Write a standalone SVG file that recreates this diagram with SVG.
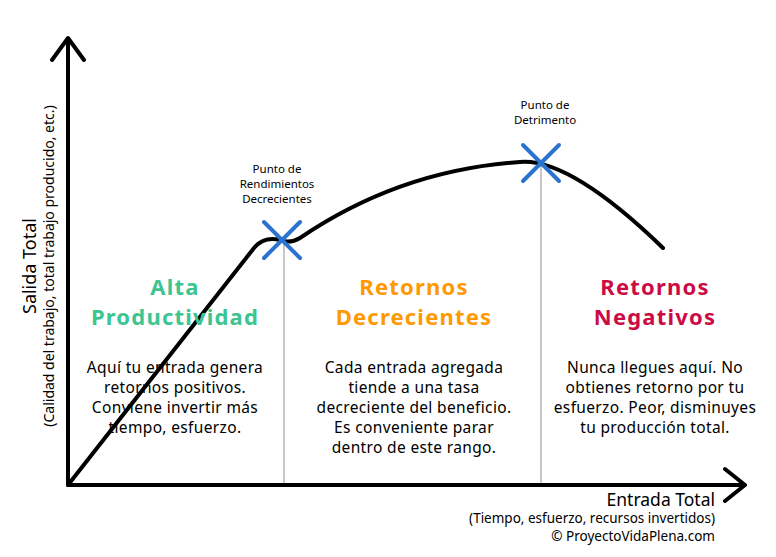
<svg xmlns="http://www.w3.org/2000/svg" width="776" height="557" viewBox="0 0 776 557">
<style>
text{font-family:"Noto Sans","Open Sans",sans-serif;text-anchor:middle;fill:#000}
.h{font-size:22px;font-weight:bold;letter-spacing:1.2px}
.b{font-size:15.5px;letter-spacing:0.35px}
.s{font-size:11.5px}
.ax{stroke:#000;stroke-width:4;fill:none;stroke-linecap:round;stroke-linejoin:round}
.g{stroke:#c8c8c8;stroke-width:2}
.x{stroke:#2a74d0;stroke-width:4;stroke-linecap:round}
</style>
<rect width="776" height="557" fill="#fff"/>
<g id="connectors">
<line class="g" x1="284" y1="242" x2="284" y2="484"/>
<line class="g" x1="541" y1="164" x2="541" y2="484"/>
<path class="ax" d="M68,485 V40 M52,60 L68,38 L84,60"/>
<path class="ax" d="M68,485 H745 M725,469 L745,485 L725,501"/>
<path class="ax" d="M68,485 L254,248 Q264,236 280,240 Q290,244 300,238 Q400,170 520,162 Q570,158 663,248"/>
</g>
<g id="p1"><line class="x" x1="264" y1="222" x2="300" y2="258"/><line class="x" x1="300" y1="222" x2="264" y2="258"/>
<text class="s" x="277" y="173">Punto de</text><text class="s" x="277" y="188">Rendimientos</text><text class="s" x="277" y="203">Decrecientes</text></g>
<g id="p2"><line class="x" x1="523" y1="145" x2="559" y2="181"/><line class="x" x1="559" y1="145" x2="523" y2="181"/>
<text class="s" x="545" y="109">Punto de</text><text class="s" x="545" y="124">Detrimento</text></g>
<g id="alta"><text class="h" x="175" y="295" style="fill:#3cc591">Alta</text><text class="h" x="175" y="325" style="fill:#3cc591">Productividad</text>
<text class="b" x="175" y="373">Aquí tu entrada genera</text><text class="b" x="175" y="393">retornos positivos.</text><text class="b" x="175" y="413">Conviene invertir más</text><text class="b" x="175" y="433">tiempo, esfuerzo.</text></g>
<g id="dec"><text class="h" x="414" y="295" style="fill:#ff9900">Retornos</text><text class="h" x="414" y="325" style="fill:#ff9900">Decrecientes</text>
<text class="b" x="414" y="373">Cada entrada agregada</text><text class="b" x="414" y="393">tiende a una tasa</text><text class="b" x="414" y="413">decreciente del beneficio.</text><text class="b" x="414" y="433">Es conveniente parar</text><text class="b" x="414" y="453">dentro de este rango.</text></g>
<g id="neg"><text class="h" x="655" y="295" style="fill:#cc0b44">Retornos</text><text class="h" x="655" y="325" style="fill:#cc0b44">Negativos</text>
<text class="b" x="655" y="373">Nunca llegues aquí. No</text><text class="b" x="655" y="393">obtienes retorno por tu</text><text class="b" x="655" y="413">esfuerzo. Peor, disminuyes</text><text class="b" x="655" y="433">tu producción total.</text></g>
<g id="ylabel"><text transform="translate(36,266) rotate(-90)" style="font-size:18px">Salida Total</text>
<text transform="translate(54,266) rotate(-90)" style="font-size:14px">(Calidad del trabajo, total trabajo producido, etc.)</text></g>
<g id="xlabel"><text x="715" y="506" style="font-size:17.5px;text-anchor:end">Entrada Total</text>
<text x="715" y="523" style="font-size:13.5px;text-anchor:end">(Tiempo, esfuerzo, recursos invertidos)</text>
<text x="715" y="541" style="font-size:13.5px;text-anchor:end">© ProyectoVidaPlena.com</text></g>
</svg>
